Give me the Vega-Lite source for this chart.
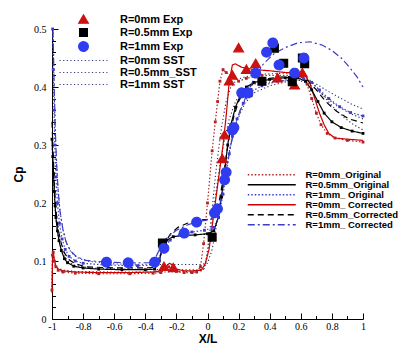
{
  "$schema": "https://vega.github.io/schema/vega-lite/v6.json",
  "width": 311,
  "height": 290,
  "autosize": {"type": "none"},
  "padding": {"left": 52, "top": 29, "right": 53, "bottom": 25},
  "background": "white",
  "config": {"view": {"stroke": null}},
  "datasets": {
    "exp": [
      {"s": "R=0mm Exp", "x": -0.28, "y": 0.09},
      {"s": "R=0mm Exp", "x": -0.22, "y": 0.088},
      {"s": "R=0mm Exp", "x": 0.095, "y": 0.276},
      {"s": "R=0mm Exp", "x": 0.11, "y": 0.317},
      {"s": "R=0mm Exp", "x": 0.14, "y": 0.41},
      {"s": "R=0mm Exp", "x": 0.16, "y": 0.42},
      {"s": "R=0mm Exp", "x": 0.2, "y": 0.467},
      {"s": "R=0mm Exp", "x": 0.25, "y": 0.43},
      {"s": "R=0mm Exp", "x": 0.31, "y": 0.44},
      {"s": "R=0mm Exp", "x": 0.45, "y": 0.415},
      {"s": "R=0mm Exp", "x": 0.56, "y": 0.403},
      {"s": "R=0mm Exp", "x": 0.61, "y": 0.424},
      {"s": "R=0.5mm Exp", "x": -0.29, "y": 0.131},
      {"s": "R=0.5mm Exp", "x": 0.03, "y": 0.141},
      {"s": "R=0.5mm Exp", "x": 0.26, "y": 0.39},
      {"s": "R=0.5mm Exp", "x": 0.35, "y": 0.41},
      {"s": "R=0.5mm Exp", "x": 0.43, "y": 0.467},
      {"s": "R=0.5mm Exp", "x": 0.49, "y": 0.441},
      {"s": "R=0.5mm Exp", "x": 0.545, "y": 0.409},
      {"s": "R=0.5mm Exp", "x": 0.61, "y": 0.45},
      {"s": "R=0.5mm Exp", "x": 0.625, "y": 0.44},
      {"s": "R=1mm Exp", "x": -0.65, "y": 0.098},
      {"s": "R=1mm Exp", "x": -0.51, "y": 0.097},
      {"s": "R=1mm Exp", "x": -0.34, "y": 0.098},
      {"s": "R=1mm Exp", "x": -0.28, "y": 0.122},
      {"s": "R=1mm Exp", "x": -0.15, "y": 0.148},
      {"s": "R=1mm Exp", "x": -0.07, "y": 0.167},
      {"s": "R=1mm Exp", "x": 0.045, "y": 0.183},
      {"s": "R=1mm Exp", "x": 0.064, "y": 0.19},
      {"s": "R=1mm Exp", "x": 0.11, "y": 0.24},
      {"s": "R=1mm Exp", "x": 0.12, "y": 0.253},
      {"s": "R=1mm Exp", "x": 0.16, "y": 0.326},
      {"s": "R=1mm Exp", "x": 0.17, "y": 0.33},
      {"s": "R=1mm Exp", "x": 0.22, "y": 0.39},
      {"s": "R=1mm Exp", "x": 0.26, "y": 0.39},
      {"s": "R=1mm Exp", "x": 0.31, "y": 0.424},
      {"s": "R=1mm Exp", "x": 0.38, "y": 0.46},
      {"s": "R=1mm Exp", "x": 0.42, "y": 0.476},
      {"s": "R=1mm Exp", "x": 0.46, "y": 0.438},
      {"s": "R=1mm Exp", "x": 0.56, "y": 0.424},
      {"s": "R=1mm Exp", "x": 0.62, "y": 0.45}
    ],
    "sst": [
      {"s": "R=0mm SST", "x": -1.0, "y": 0.055},
      {"s": "R=0mm SST", "x": -0.997, "y": 0.108},
      {"s": "R=0mm SST", "x": -0.99, "y": 0.1},
      {"s": "R=0mm SST", "x": -0.98, "y": 0.092},
      {"s": "R=0mm SST", "x": -0.96, "y": 0.087},
      {"s": "R=0mm SST", "x": -0.92, "y": 0.084},
      {"s": "R=0mm SST", "x": -0.85, "y": 0.082},
      {"s": "R=0mm SST", "x": -0.6, "y": 0.081},
      {"s": "R=0mm SST", "x": -0.3, "y": 0.081},
      {"s": "R=0mm SST", "x": -0.1, "y": 0.082},
      {"s": "R=0mm SST", "x": -0.03, "y": 0.083},
      {"s": "R=0mm SST", "x": -0.01, "y": 0.1},
      {"s": "R=0mm SST", "x": 0.01, "y": 0.14},
      {"s": "R=0mm SST", "x": 0.03, "y": 0.19},
      {"s": "R=0mm SST", "x": 0.05, "y": 0.245},
      {"s": "R=0mm SST", "x": 0.07, "y": 0.29},
      {"s": "R=0mm SST", "x": 0.09, "y": 0.33},
      {"s": "R=0mm SST", "x": 0.12, "y": 0.375},
      {"s": "R=0mm SST", "x": 0.15, "y": 0.4},
      {"s": "R=0mm SST", "x": 0.19, "y": 0.413},
      {"s": "R=0mm SST", "x": 0.25, "y": 0.418},
      {"s": "R=0mm SST", "x": 0.35, "y": 0.422},
      {"s": "R=0mm SST", "x": 0.5, "y": 0.424},
      {"s": "R=0mm SST", "x": 0.6, "y": 0.422},
      {"s": "R=0mm SST", "x": 0.65, "y": 0.414},
      {"s": "R=0mm SST", "x": 0.7, "y": 0.4},
      {"s": "R=0mm SST", "x": 0.76, "y": 0.38},
      {"s": "R=0mm SST", "x": 0.82, "y": 0.362},
      {"s": "R=0mm SST", "x": 0.88, "y": 0.347},
      {"s": "R=0mm SST", "x": 0.94, "y": 0.335},
      {"s": "R=0mm SST", "x": 1.0, "y": 0.326},
      {"s": "R=0.5mm_SST", "x": -1.0, "y": 0.3},
      {"s": "R=0.5mm_SST", "x": -0.992, "y": 0.25},
      {"s": "R=0.5mm_SST", "x": -0.984, "y": 0.205},
      {"s": "R=0.5mm_SST", "x": -0.975, "y": 0.172},
      {"s": "R=0.5mm_SST", "x": -0.962, "y": 0.145},
      {"s": "R=0.5mm_SST", "x": -0.945, "y": 0.124},
      {"s": "R=0.5mm_SST", "x": -0.92, "y": 0.108},
      {"s": "R=0.5mm_SST", "x": -0.89, "y": 0.098},
      {"s": "R=0.5mm_SST", "x": -0.85, "y": 0.092},
      {"s": "R=0.5mm_SST", "x": -0.75, "y": 0.088},
      {"s": "R=0.5mm_SST", "x": -0.5, "y": 0.086},
      {"s": "R=0.5mm_SST", "x": -0.2, "y": 0.085},
      {"s": "R=0.5mm_SST", "x": -0.05, "y": 0.085},
      {"s": "R=0.5mm_SST", "x": -0.02, "y": 0.087},
      {"s": "R=0.5mm_SST", "x": 0.0, "y": 0.11},
      {"s": "R=0.5mm_SST", "x": 0.02, "y": 0.15},
      {"s": "R=0.5mm_SST", "x": 0.05, "y": 0.21},
      {"s": "R=0.5mm_SST", "x": 0.08, "y": 0.265},
      {"s": "R=0.5mm_SST", "x": 0.11, "y": 0.31},
      {"s": "R=0.5mm_SST", "x": 0.14, "y": 0.345},
      {"s": "R=0.5mm_SST", "x": 0.18, "y": 0.375},
      {"s": "R=0.5mm_SST", "x": 0.23, "y": 0.395},
      {"s": "R=0.5mm_SST", "x": 0.3, "y": 0.405},
      {"s": "R=0.5mm_SST", "x": 0.45, "y": 0.41},
      {"s": "R=0.5mm_SST", "x": 0.58, "y": 0.412},
      {"s": "R=0.5mm_SST", "x": 0.64, "y": 0.407},
      {"s": "R=0.5mm_SST", "x": 0.7, "y": 0.396},
      {"s": "R=0.5mm_SST", "x": 0.77, "y": 0.38},
      {"s": "R=0.5mm_SST", "x": 0.84, "y": 0.366},
      {"s": "R=0.5mm_SST", "x": 0.92, "y": 0.354},
      {"s": "R=0.5mm_SST", "x": 1.0, "y": 0.345},
      {"s": "R=1mm SST", "x": -0.993, "y": 0.5},
      {"s": "R=1mm SST", "x": -0.987, "y": 0.41},
      {"s": "R=1mm SST", "x": -0.981, "y": 0.34},
      {"s": "R=1mm SST", "x": -0.973, "y": 0.28},
      {"s": "R=1mm SST", "x": -0.963, "y": 0.23},
      {"s": "R=1mm SST", "x": -0.95, "y": 0.19},
      {"s": "R=1mm SST", "x": -0.933, "y": 0.158},
      {"s": "R=1mm SST", "x": -0.91, "y": 0.133},
      {"s": "R=1mm SST", "x": -0.88, "y": 0.116},
      {"s": "R=1mm SST", "x": -0.84, "y": 0.106},
      {"s": "R=1mm SST", "x": -0.78, "y": 0.1},
      {"s": "R=1mm SST", "x": -0.6, "y": 0.095},
      {"s": "R=1mm SST", "x": -0.3, "y": 0.094},
      {"s": "R=1mm SST", "x": -0.05, "y": 0.094},
      {"s": "R=1mm SST", "x": 0.0, "y": 0.096},
      {"s": "R=1mm SST", "x": 0.03, "y": 0.12},
      {"s": "R=1mm SST", "x": 0.06, "y": 0.165},
      {"s": "R=1mm SST", "x": 0.09, "y": 0.215},
      {"s": "R=1mm SST", "x": 0.12, "y": 0.262},
      {"s": "R=1mm SST", "x": 0.15, "y": 0.302},
      {"s": "R=1mm SST", "x": 0.19, "y": 0.342},
      {"s": "R=1mm SST", "x": 0.24, "y": 0.372},
      {"s": "R=1mm SST", "x": 0.3, "y": 0.39},
      {"s": "R=1mm SST", "x": 0.4, "y": 0.402},
      {"s": "R=1mm SST", "x": 0.52, "y": 0.41},
      {"s": "R=1mm SST", "x": 0.62, "y": 0.412},
      {"s": "R=1mm SST", "x": 0.7, "y": 0.405},
      {"s": "R=1mm SST", "x": 0.78, "y": 0.392},
      {"s": "R=1mm SST", "x": 0.86, "y": 0.38},
      {"s": "R=1mm SST", "x": 0.93, "y": 0.37},
      {"s": "R=1mm SST", "x": 1.0, "y": 0.362}
    ],
    "cfd": [
      {"s": "R=0mm_Original", "x": -1.0, "y": 0.05},
      {"s": "R=0mm_Original", "x": -0.997, "y": 0.11},
      {"s": "R=0mm_Original", "x": -0.992, "y": 0.115},
      {"s": "R=0mm_Original", "x": -0.985, "y": 0.1},
      {"s": "R=0mm_Original", "x": -0.975, "y": 0.09},
      {"s": "R=0mm_Original", "x": -0.96, "y": 0.084},
      {"s": "R=0mm_Original", "x": -0.93, "y": 0.081},
      {"s": "R=0mm_Original", "x": -0.85, "y": 0.079},
      {"s": "R=0mm_Original", "x": -0.7, "y": 0.078},
      {"s": "R=0mm_Original", "x": -0.5, "y": 0.078},
      {"s": "R=0mm_Original", "x": -0.35, "y": 0.079},
      {"s": "R=0mm_Original", "x": -0.3, "y": 0.08},
      {"s": "R=0mm_Original", "x": -0.27, "y": 0.086},
      {"s": "R=0mm_Original", "x": -0.25, "y": 0.09},
      {"s": "R=0mm_Original", "x": -0.22, "y": 0.088},
      {"s": "R=0mm_Original", "x": -0.2, "y": 0.082},
      {"s": "R=0mm_Original", "x": -0.15, "y": 0.08},
      {"s": "R=0mm_Original", "x": -0.1, "y": 0.08},
      {"s": "R=0mm_Original", "x": -0.07, "y": 0.081},
      {"s": "R=0mm_Original", "x": -0.045, "y": 0.09},
      {"s": "R=0mm_Original", "x": -0.025, "y": 0.13},
      {"s": "R=0mm_Original", "x": 0.0, "y": 0.2},
      {"s": "R=0mm_Original", "x": 0.03, "y": 0.29},
      {"s": "R=0mm_Original", "x": 0.05, "y": 0.34},
      {"s": "R=0mm_Original", "x": 0.065, "y": 0.375},
      {"s": "R=0mm_Original", "x": 0.08, "y": 0.41},
      {"s": "R=0mm_Original", "x": 0.1, "y": 0.43},
      {"s": "R=0mm_Original", "x": 0.12, "y": 0.425},
      {"s": "R=0mm_Original", "x": 0.15, "y": 0.42},
      {"s": "R=0mm_Original", "x": 0.2, "y": 0.41},
      {"s": "R=0mm_Original", "x": 0.25, "y": 0.415},
      {"s": "R=0mm_Original", "x": 0.35, "y": 0.42},
      {"s": "R=0mm_Original", "x": 0.45, "y": 0.42},
      {"s": "R=0mm_Original", "x": 0.55, "y": 0.42},
      {"s": "R=0mm_Original", "x": 0.61, "y": 0.418},
      {"s": "R=0mm_Original", "x": 0.64, "y": 0.405},
      {"s": "R=0mm_Original", "x": 0.67, "y": 0.38},
      {"s": "R=0mm_Original", "x": 0.7, "y": 0.355},
      {"s": "R=0mm_Original", "x": 0.73, "y": 0.335},
      {"s": "R=0mm_Original", "x": 0.77, "y": 0.32},
      {"s": "R=0mm_Original", "x": 0.82, "y": 0.312},
      {"s": "R=0mm_Original", "x": 0.9, "y": 0.308},
      {"s": "R=0mm_Original", "x": 1.0, "y": 0.305},
      {"s": "R=0mm_ Corrected", "x": -1.0, "y": 0.045},
      {"s": "R=0mm_ Corrected", "x": -0.997, "y": 0.1},
      {"s": "R=0mm_ Corrected", "x": -0.993, "y": 0.118},
      {"s": "R=0mm_ Corrected", "x": -0.986, "y": 0.104},
      {"s": "R=0mm_ Corrected", "x": -0.976, "y": 0.092},
      {"s": "R=0mm_ Corrected", "x": -0.96, "y": 0.086},
      {"s": "R=0mm_ Corrected", "x": -0.93, "y": 0.083},
      {"s": "R=0mm_ Corrected", "x": -0.85, "y": 0.081},
      {"s": "R=0mm_ Corrected", "x": -0.7, "y": 0.08},
      {"s": "R=0mm_ Corrected", "x": -0.5, "y": 0.08},
      {"s": "R=0mm_ Corrected", "x": -0.35, "y": 0.081},
      {"s": "R=0mm_ Corrected", "x": -0.3, "y": 0.083},
      {"s": "R=0mm_ Corrected", "x": -0.27, "y": 0.09},
      {"s": "R=0mm_ Corrected", "x": -0.245, "y": 0.096},
      {"s": "R=0mm_ Corrected", "x": -0.22, "y": 0.093},
      {"s": "R=0mm_ Corrected", "x": -0.2, "y": 0.086},
      {"s": "R=0mm_ Corrected", "x": -0.15, "y": 0.083},
      {"s": "R=0mm_ Corrected", "x": -0.1, "y": 0.083},
      {"s": "R=0mm_ Corrected", "x": -0.04, "y": 0.084},
      {"s": "R=0mm_ Corrected", "x": -0.015, "y": 0.095},
      {"s": "R=0mm_ Corrected", "x": 0.01, "y": 0.12},
      {"s": "R=0mm_ Corrected", "x": 0.04, "y": 0.18},
      {"s": "R=0mm_ Corrected", "x": 0.07, "y": 0.24},
      {"s": "R=0mm_ Corrected", "x": 0.1, "y": 0.3},
      {"s": "R=0mm_ Corrected", "x": 0.12, "y": 0.35},
      {"s": "R=0mm_ Corrected", "x": 0.14, "y": 0.41},
      {"s": "R=0mm_ Corrected", "x": 0.16, "y": 0.438},
      {"s": "R=0mm_ Corrected", "x": 0.18, "y": 0.44},
      {"s": "R=0mm_ Corrected", "x": 0.22, "y": 0.434},
      {"s": "R=0mm_ Corrected", "x": 0.3, "y": 0.43},
      {"s": "R=0mm_ Corrected", "x": 0.4, "y": 0.428},
      {"s": "R=0mm_ Corrected", "x": 0.5, "y": 0.425},
      {"s": "R=0mm_ Corrected", "x": 0.58, "y": 0.424},
      {"s": "R=0mm_ Corrected", "x": 0.63, "y": 0.42},
      {"s": "R=0mm_ Corrected", "x": 0.66, "y": 0.405},
      {"s": "R=0mm_ Corrected", "x": 0.69, "y": 0.38},
      {"s": "R=0mm_ Corrected", "x": 0.72, "y": 0.355},
      {"s": "R=0mm_ Corrected", "x": 0.75, "y": 0.335},
      {"s": "R=0mm_ Corrected", "x": 0.78, "y": 0.32},
      {"s": "R=0mm_ Corrected", "x": 0.82, "y": 0.312},
      {"s": "R=0mm_ Corrected", "x": 0.9, "y": 0.31},
      {"s": "R=0mm_ Corrected", "x": 1.0, "y": 0.308},
      {"s": "R=0.5mm_Original", "x": -1.0, "y": 0.31},
      {"s": "R=0.5mm_Original", "x": -0.995, "y": 0.28},
      {"s": "R=0.5mm_Original", "x": -0.99, "y": 0.25},
      {"s": "R=0.5mm_Original", "x": -0.985, "y": 0.22},
      {"s": "R=0.5mm_Original", "x": -0.98, "y": 0.195},
      {"s": "R=0.5mm_Original", "x": -0.975, "y": 0.175},
      {"s": "R=0.5mm_Original", "x": -0.965, "y": 0.152},
      {"s": "R=0.5mm_Original", "x": -0.955, "y": 0.135},
      {"s": "R=0.5mm_Original", "x": -0.94, "y": 0.118},
      {"s": "R=0.5mm_Original", "x": -0.92, "y": 0.104},
      {"s": "R=0.5mm_Original", "x": -0.9, "y": 0.097},
      {"s": "R=0.5mm_Original", "x": -0.86, "y": 0.091},
      {"s": "R=0.5mm_Original", "x": -0.8, "y": 0.088},
      {"s": "R=0.5mm_Original", "x": -0.7, "y": 0.086},
      {"s": "R=0.5mm_Original", "x": -0.55, "y": 0.085},
      {"s": "R=0.5mm_Original", "x": -0.4, "y": 0.085},
      {"s": "R=0.5mm_Original", "x": -0.34, "y": 0.086},
      {"s": "R=0.5mm_Original", "x": -0.31, "y": 0.1},
      {"s": "R=0.5mm_Original", "x": -0.29, "y": 0.122},
      {"s": "R=0.5mm_Original", "x": -0.26, "y": 0.136},
      {"s": "R=0.5mm_Original", "x": -0.22, "y": 0.142},
      {"s": "R=0.5mm_Original", "x": -0.15, "y": 0.144},
      {"s": "R=0.5mm_Original", "x": -0.08, "y": 0.145},
      {"s": "R=0.5mm_Original", "x": 0.0, "y": 0.147},
      {"s": "R=0.5mm_Original", "x": 0.04, "y": 0.152},
      {"s": "R=0.5mm_Original", "x": 0.07, "y": 0.175},
      {"s": "R=0.5mm_Original", "x": 0.09, "y": 0.21},
      {"s": "R=0.5mm_Original", "x": 0.11, "y": 0.255},
      {"s": "R=0.5mm_Original", "x": 0.13, "y": 0.3},
      {"s": "R=0.5mm_Original", "x": 0.15, "y": 0.335},
      {"s": "R=0.5mm_Original", "x": 0.18, "y": 0.365},
      {"s": "R=0.5mm_Original", "x": 0.21, "y": 0.385},
      {"s": "R=0.5mm_Original", "x": 0.25, "y": 0.4},
      {"s": "R=0.5mm_Original", "x": 0.3, "y": 0.408},
      {"s": "R=0.5mm_Original", "x": 0.4, "y": 0.413},
      {"s": "R=0.5mm_Original", "x": 0.5, "y": 0.416},
      {"s": "R=0.5mm_Original", "x": 0.58, "y": 0.416},
      {"s": "R=0.5mm_Original", "x": 0.63, "y": 0.41},
      {"s": "R=0.5mm_Original", "x": 0.67, "y": 0.395},
      {"s": "R=0.5mm_Original", "x": 0.71, "y": 0.375},
      {"s": "R=0.5mm_Original", "x": 0.75, "y": 0.355},
      {"s": "R=0.5mm_Original", "x": 0.8, "y": 0.34},
      {"s": "R=0.5mm_Original", "x": 0.86, "y": 0.33},
      {"s": "R=0.5mm_Original", "x": 0.93, "y": 0.324},
      {"s": "R=0.5mm_Original", "x": 1.0, "y": 0.32},
      {"s": "R=0.5mm_Corrected", "x": -1.0, "y": 0.34},
      {"s": "R=0.5mm_Corrected", "x": -0.993, "y": 0.29},
      {"s": "R=0.5mm_Corrected", "x": -0.986, "y": 0.24},
      {"s": "R=0.5mm_Corrected", "x": -0.978, "y": 0.2},
      {"s": "R=0.5mm_Corrected", "x": -0.968, "y": 0.17},
      {"s": "R=0.5mm_Corrected", "x": -0.955, "y": 0.148},
      {"s": "R=0.5mm_Corrected", "x": -0.94, "y": 0.13},
      {"s": "R=0.5mm_Corrected", "x": -0.92, "y": 0.114},
      {"s": "R=0.5mm_Corrected", "x": -0.89, "y": 0.102},
      {"s": "R=0.5mm_Corrected", "x": -0.85, "y": 0.095},
      {"s": "R=0.5mm_Corrected", "x": -0.78, "y": 0.09},
      {"s": "R=0.5mm_Corrected", "x": -0.6, "y": 0.088},
      {"s": "R=0.5mm_Corrected", "x": -0.4, "y": 0.088},
      {"s": "R=0.5mm_Corrected", "x": -0.34, "y": 0.089},
      {"s": "R=0.5mm_Corrected", "x": -0.31, "y": 0.105},
      {"s": "R=0.5mm_Corrected", "x": -0.28, "y": 0.128},
      {"s": "R=0.5mm_Corrected", "x": -0.24, "y": 0.146},
      {"s": "R=0.5mm_Corrected", "x": -0.19, "y": 0.158},
      {"s": "R=0.5mm_Corrected", "x": -0.13, "y": 0.165},
      {"s": "R=0.5mm_Corrected", "x": -0.07, "y": 0.17},
      {"s": "R=0.5mm_Corrected", "x": 0.0, "y": 0.172},
      {"s": "R=0.5mm_Corrected", "x": 0.04, "y": 0.176},
      {"s": "R=0.5mm_Corrected", "x": 0.07, "y": 0.195},
      {"s": "R=0.5mm_Corrected", "x": 0.1, "y": 0.24},
      {"s": "R=0.5mm_Corrected", "x": 0.12, "y": 0.28},
      {"s": "R=0.5mm_Corrected", "x": 0.14, "y": 0.315},
      {"s": "R=0.5mm_Corrected", "x": 0.17, "y": 0.35},
      {"s": "R=0.5mm_Corrected", "x": 0.2, "y": 0.375},
      {"s": "R=0.5mm_Corrected", "x": 0.24, "y": 0.395},
      {"s": "R=0.5mm_Corrected", "x": 0.3, "y": 0.407},
      {"s": "R=0.5mm_Corrected", "x": 0.4, "y": 0.415},
      {"s": "R=0.5mm_Corrected", "x": 0.5, "y": 0.418},
      {"s": "R=0.5mm_Corrected", "x": 0.6, "y": 0.418},
      {"s": "R=0.5mm_Corrected", "x": 0.65, "y": 0.41},
      {"s": "R=0.5mm_Corrected", "x": 0.7, "y": 0.395},
      {"s": "R=0.5mm_Corrected", "x": 0.76, "y": 0.375},
      {"s": "R=0.5mm_Corrected", "x": 0.83, "y": 0.358},
      {"s": "R=0.5mm_Corrected", "x": 0.91, "y": 0.345},
      {"s": "R=0.5mm_Corrected", "x": 1.0, "y": 0.338},
      {"s": "R=1mm_ Original", "x": -0.996, "y": 0.5},
      {"s": "R=1mm_ Original", "x": -0.992, "y": 0.43},
      {"s": "R=1mm_ Original", "x": -0.987, "y": 0.36},
      {"s": "R=1mm_ Original", "x": -0.982, "y": 0.3},
      {"s": "R=1mm_ Original", "x": -0.975, "y": 0.245},
      {"s": "R=1mm_ Original", "x": -0.965, "y": 0.2},
      {"s": "R=1mm_ Original", "x": -0.952, "y": 0.165},
      {"s": "R=1mm_ Original", "x": -0.935, "y": 0.138},
      {"s": "R=1mm_ Original", "x": -0.915, "y": 0.12},
      {"s": "R=1mm_ Original", "x": -0.89, "y": 0.108},
      {"s": "R=1mm_ Original", "x": -0.85, "y": 0.1},
      {"s": "R=1mm_ Original", "x": -0.8, "y": 0.096},
      {"s": "R=1mm_ Original", "x": -0.65, "y": 0.093},
      {"s": "R=1mm_ Original", "x": -0.45, "y": 0.092},
      {"s": "R=1mm_ Original", "x": -0.34, "y": 0.093},
      {"s": "R=1mm_ Original", "x": -0.31, "y": 0.104},
      {"s": "R=1mm_ Original", "x": -0.28, "y": 0.122},
      {"s": "R=1mm_ Original", "x": -0.24, "y": 0.136},
      {"s": "R=1mm_ Original", "x": -0.18, "y": 0.145},
      {"s": "R=1mm_ Original", "x": -0.1, "y": 0.15},
      {"s": "R=1mm_ Original", "x": -0.02, "y": 0.153},
      {"s": "R=1mm_ Original", "x": 0.04, "y": 0.158},
      {"s": "R=1mm_ Original", "x": 0.07, "y": 0.175},
      {"s": "R=1mm_ Original", "x": 0.1, "y": 0.215},
      {"s": "R=1mm_ Original", "x": 0.12, "y": 0.25},
      {"s": "R=1mm_ Original", "x": 0.14, "y": 0.285},
      {"s": "R=1mm_ Original", "x": 0.16, "y": 0.315},
      {"s": "R=1mm_ Original", "x": 0.19, "y": 0.345},
      {"s": "R=1mm_ Original", "x": 0.23, "y": 0.372},
      {"s": "R=1mm_ Original", "x": 0.28, "y": 0.392},
      {"s": "R=1mm_ Original", "x": 0.35, "y": 0.402},
      {"s": "R=1mm_ Original", "x": 0.45, "y": 0.41},
      {"s": "R=1mm_ Original", "x": 0.55, "y": 0.414},
      {"s": "R=1mm_ Original", "x": 0.62, "y": 0.414},
      {"s": "R=1mm_ Original", "x": 0.67, "y": 0.408},
      {"s": "R=1mm_ Original", "x": 0.72, "y": 0.395},
      {"s": "R=1mm_ Original", "x": 0.78, "y": 0.38},
      {"s": "R=1mm_ Original", "x": 0.85, "y": 0.366},
      {"s": "R=1mm_ Original", "x": 0.92, "y": 0.356},
      {"s": "R=1mm_ Original", "x": 1.0, "y": 0.35},
      {"s": "R=1mm_ Corrected", "x": -0.994, "y": 0.5},
      {"s": "R=1mm_ Corrected", "x": -0.989, "y": 0.44},
      {"s": "R=1mm_ Corrected", "x": -0.984, "y": 0.38},
      {"s": "R=1mm_ Corrected", "x": -0.978, "y": 0.32},
      {"s": "R=1mm_ Corrected", "x": -0.97, "y": 0.265},
      {"s": "R=1mm_ Corrected", "x": -0.96, "y": 0.22},
      {"s": "R=1mm_ Corrected", "x": -0.948, "y": 0.185},
      {"s": "R=1mm_ Corrected", "x": -0.93, "y": 0.155},
      {"s": "R=1mm_ Corrected", "x": -0.91, "y": 0.133},
      {"s": "R=1mm_ Corrected", "x": -0.88, "y": 0.117},
      {"s": "R=1mm_ Corrected", "x": -0.84, "y": 0.107},
      {"s": "R=1mm_ Corrected", "x": -0.78, "y": 0.101},
      {"s": "R=1mm_ Corrected", "x": -0.65, "y": 0.098},
      {"s": "R=1mm_ Corrected", "x": -0.5, "y": 0.097},
      {"s": "R=1mm_ Corrected", "x": -0.37, "y": 0.097},
      {"s": "R=1mm_ Corrected", "x": -0.33, "y": 0.108},
      {"s": "R=1mm_ Corrected", "x": -0.3, "y": 0.125},
      {"s": "R=1mm_ Corrected", "x": -0.26, "y": 0.14},
      {"s": "R=1mm_ Corrected", "x": -0.2, "y": 0.153},
      {"s": "R=1mm_ Corrected", "x": -0.13, "y": 0.162},
      {"s": "R=1mm_ Corrected", "x": -0.06, "y": 0.168},
      {"s": "R=1mm_ Corrected", "x": 0.02, "y": 0.172},
      {"s": "R=1mm_ Corrected", "x": 0.06, "y": 0.18},
      {"s": "R=1mm_ Corrected", "x": 0.09, "y": 0.21},
      {"s": "R=1mm_ Corrected", "x": 0.12, "y": 0.255},
      {"s": "R=1mm_ Corrected", "x": 0.15, "y": 0.3},
      {"s": "R=1mm_ Corrected", "x": 0.18, "y": 0.335},
      {"s": "R=1mm_ Corrected", "x": 0.21, "y": 0.36},
      {"s": "R=1mm_ Corrected", "x": 0.25, "y": 0.385},
      {"s": "R=1mm_ Corrected", "x": 0.3, "y": 0.415},
      {"s": "R=1mm_ Corrected", "x": 0.36, "y": 0.44},
      {"s": "R=1mm_ Corrected", "x": 0.43, "y": 0.458},
      {"s": "R=1mm_ Corrected", "x": 0.5, "y": 0.468},
      {"s": "R=1mm_ Corrected", "x": 0.58, "y": 0.476},
      {"s": "R=1mm_ Corrected", "x": 0.66, "y": 0.478},
      {"s": "R=1mm_ Corrected", "x": 0.74, "y": 0.472},
      {"s": "R=1mm_ Corrected", "x": 0.8, "y": 0.463},
      {"s": "R=1mm_ Corrected", "x": 0.86, "y": 0.45},
      {"s": "R=1mm_ Corrected", "x": 0.91, "y": 0.435},
      {"s": "R=1mm_ Corrected", "x": 0.96, "y": 0.418},
      {"s": "R=1mm_ Corrected", "x": 1.0, "y": 0.4}
    ]
  },
  "encoding": {
    "x": {"field": "x", "type": "quantitative", "scale": {"domain": [-1, 1], "nice": false, "zero": false}, "axis": null},
    "y": {"field": "y", "type": "quantitative", "scale": {"domain": [0, 0.5], "nice": false}, "axis": null}
  },
  "layer": [
    {
      "data": {"name": "sst"},
      "mark": {"type": "line", "strokeDash": [1.2, 2.4], "strokeWidth": 1.1, "color": "#2b2b5a"},
      "encoding": {
        "x": {
          "field": "x", "type": "quantitative",
          "axis": {
            "orient": "bottom",
            "values": [-0.9, -0.7, -0.5, -0.3, -0.1, 0.1, 0.3, 0.5, 0.7, 0.9],
            "labels": false, "domain": false, "title": null, "grid": false,
            "tickColor": "#000", "tickSize": -3.5
          }
        },
        "y": {
          "field": "y", "type": "quantitative",
          "axis": {
            "orient": "left",
            "values": [0.02, 0.04, 0.06, 0.08, 0.12, 0.14, 0.16, 0.18, 0.22, 0.24, 0.26, 0.28, 0.32, 0.34, 0.36, 0.38, 0.42, 0.44, 0.46, 0.48],
            "labels": false, "domain": false, "title": null, "grid": false,
            "tickColor": "#000", "tickSize": -3.5
          }
        },
        "detail": {"field": "s"}
      }
    },
    {
      "data": {"name": "cfd"},
      "mark": {"type": "line", "strokeWidth": 1.2},
      "encoding": {
        "x": {
          "field": "x", "type": "quantitative",
          "axis": {
            "orient": "bottom",
            "values": [-1, -0.8, -0.6, -0.4, -0.2, 0, 0.2, 0.4, 0.6, 0.8, 1],
            "labelExpr": "'' + datum.value",
            "title": "X/L", "titleFont": "Liberation Sans", "titleFontWeight": "bold", "titleFontSize": 12, "titleColor": "#000", "titlePadding": 2,
            "labelFont": "Liberation Serif", "labelFontSize": 10, "labelColor": "#000",
            "tickColor": "#000", "domainColor": "#000", "tickSize": -6, "labelPadding": 8, "grid": false, "labelFlush": false
          }
        },
        "y": {
          "field": "y", "type": "quantitative",
          "axis": {
            "orient": "left",
            "values": [0, 0.1, 0.2, 0.3, 0.4, 0.5],
            "labelExpr": "'' + datum.value",
            "title": "Cp", "titleFont": "Liberation Sans", "titleFontWeight": "bold", "titleFontSize": 12, "titleColor": "#000", "titlePadding": 8,
            "labelFont": "Liberation Serif", "labelFontSize": 10, "labelColor": "#000",
            "tickColor": "#000", "domainColor": "#000", "tickSize": -6, "labelPadding": 12, "grid": false, "labelFlush": false
          }
        },
        "stroke": {
          "field": "s", "type": "nominal",
          "scale": {
            "domain": ["R=0mm_Original", "R=0.5mm_Original", "R=1mm_ Original", "R=0mm_ Corrected", "R=0.5mm_Corrected", "R=1mm_ Corrected"],
            "range": ["#b22222", "#000000", "#3c3cc8", "#cc0000", "#000000", "#3c3cc8"]
          },
          "legend": {
            "title": null, "orient": "none", "legendX": 215, "legendY": 141,
            "symbolType": "M-8,0H8", "symbolSize": 36, "symbolStrokeWidth": 1.3,
            "labelFont": "Liberation Sans", "labelFontWeight": "bold", "labelFontSize": 9.5, "labelColor": "#000",
            "labelOffset": 29, "rowPadding": -1.5, "padding": 0
          }
        },
        "strokeDash": {
          "field": "s", "type": "nominal",
          "scale": {
            "domain": ["R=0mm_Original", "R=0.5mm_Original", "R=1mm_ Original", "R=0mm_ Corrected", "R=0.5mm_Corrected", "R=1mm_ Corrected"],
            "range": [[1.5, 2], [1, 0], [1.5, 2], [1, 0], [6, 4], [7, 3, 2, 3]]
          }
        }
      }
    },
    {
      "data": {"name": "cfd"},
      "transform": [{"filter": "indexof(datum.s, 'Original') >= 0"}],
      "mark": {"type": "point", "filled": true, "shape": "square", "size": 8, "opacity": 1},
      "encoding": {
        "color": {
          "field": "s", "type": "nominal",
          "scale": {"domain": ["R=0mm_Original", "R=0.5mm_Original", "R=1mm_ Original"], "range": ["#b22222", "#000000", "#3c3cc8"]},
          "legend": null
        }
      }
    },
    {
      "data": {"name": "exp"},
      "mark": {"type": "point", "filled": true, "size": 85, "strokeWidth": 1.2, "opacity": 1},
      "encoding": {
        "shape": {
          "field": "s", "type": "nominal",
          "scale": {
            "domain": ["R=0mm Exp", "R=0.5mm Exp", "R=1mm Exp", "R=0mm SST", "R=0.5mm_SST", "R=1mm SST"],
            "range": ["M0,-1L1.05,0.8L-1.05,0.8Z", "M-0.85,-0.85H0.85V0.85H-0.85Z", "M1.05,0A1.05,1.05,0,1,1,-1.05,0A1.05,1.05,0,1,1,1.05,0Z", "M-5.2,0H5.2", "M-5.2,0H5.2", "M-5.2,0H5.2"]
          },
          "legend": {
            "title": null, "orient": "none", "legendX": 26, "legendY": -15,
            "symbolSize": 85, "symbolStrokeWidth": 1.2,
            "labelFont": "Liberation Sans", "labelFontWeight": "bold", "labelFontSize": 11, "labelColor": "#000",
            "labelOffset": 31, "rowPadding": 0, "padding": 0
          }
        },
        "fill": {
          "field": "s", "type": "nominal",
          "scale": {
            "domain": ["R=0mm Exp", "R=0.5mm Exp", "R=1mm Exp", "R=0mm SST", "R=0.5mm_SST", "R=1mm SST"],
            "range": ["#cc1111", "#000000", "#2f3cf0", "transparent", "transparent", "transparent"]
          }
        },
        "stroke": {
          "field": "s", "type": "nominal",
          "scale": {
            "domain": ["R=0mm Exp", "R=0.5mm Exp", "R=1mm Exp", "R=0mm SST", "R=0.5mm_SST", "R=1mm SST"],
            "range": ["#cc1111", "#000000", "#2f3cf0", "#3b3b80", "#3b3b80", "#3b3b80"]
          }
        },
        "strokeDash": {
          "field": "s", "type": "nominal",
          "scale": {
            "domain": ["R=0mm Exp", "R=0.5mm Exp", "R=1mm Exp", "R=0mm SST", "R=0.5mm_SST", "R=1mm SST"],
            "range": [[1, 0], [1, 0], [1, 0], [1.2, 2.4], [1.2, 2.4], [1.2, 2.4]]
          }
        }
      }
    }
  ],
  "resolve": {
    "scale": {"stroke": "independent", "strokeDash": "independent", "fill": "independent", "shape": "independent", "color": "independent"},
    "axis": {"x": "independent", "y": "independent"}
  }
}
